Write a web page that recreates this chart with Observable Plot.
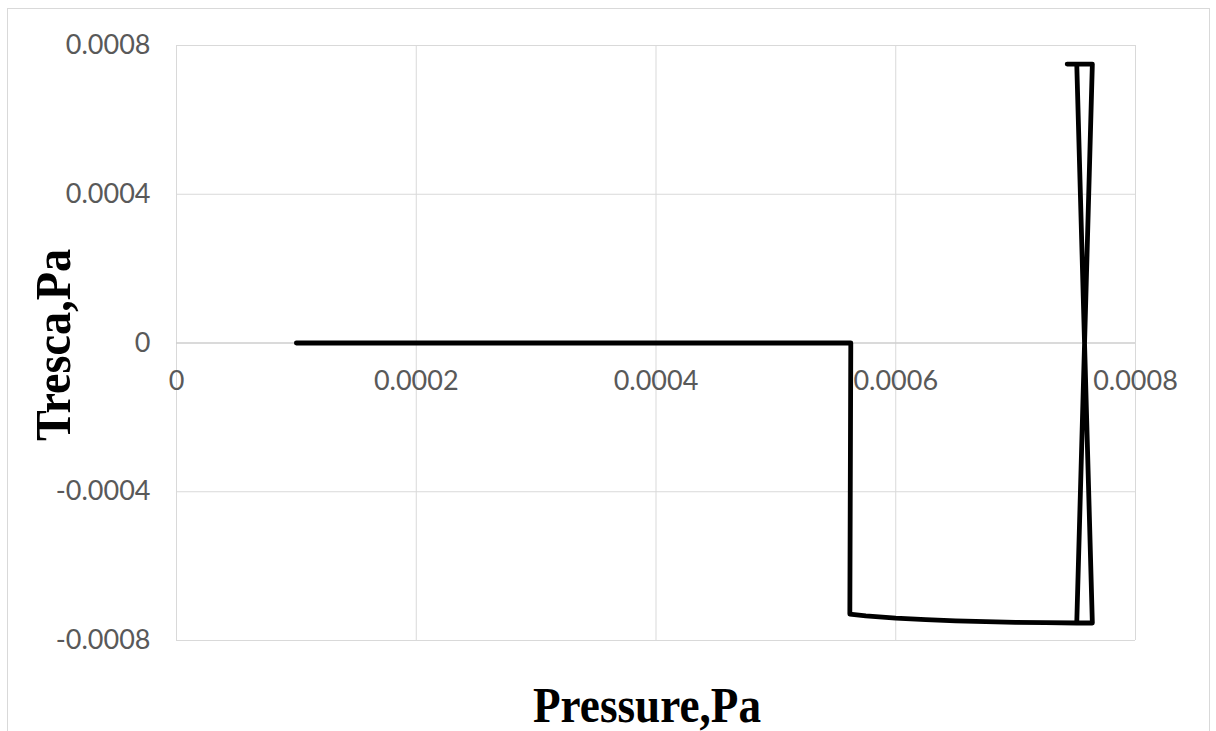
<!DOCTYPE html>
<html>
<head>
<meta charset="utf-8">
<script src="https://cdn.jsdelivr.net/npm/d3@7"></script>
<script src="https://cdn.jsdelivr.net/npm/@observablehq/plot@0.6"></script>
<style>
  body { margin: 0; background: #fff; overflow: hidden; }
  #chart { position: relative; width: 1216px; height: 731px; }
  #border { position: absolute; left: 7px; top: 8px; width: 1203px; height: 740px;
            border: 1px solid #d9d9d9; box-sizing: border-box; pointer-events: none; }
</style>
</head>
<body>
<div id="chart"><div id="border"></div></div>
<script>
// Tresca stress against pressure along the loading path
const pressure = [0.0001, 0.0005625, 0.0005617, 0.000575, 0.0006, 0.000625, 0.00065, 0.000675, 0.0007, 0.000725, 0.000751, 0.000764, 0.000751, 0.000743, 0.000764, 0.000751];
const tresca   = [0, 0, -0.000729, -0.000734, -0.000740, -0.000744, -0.000747, -0.000749, -0.000751, -0.000752, -0.000753, -0.000753, 0.00075, 0.00075, 0.00075, -0.000753];

const xTicks = [0, 0.0002, 0.0004, 0.0006, 0.0008];
const xTickLabels = ["0", "0.0002", "0.0004", "0.0006", "0.0008"];
const yTicks = [0.0008, 0.0004, 0, -0.0004, -0.0008];
const yTickLabels = ["0.0008", "0.0004", "0", "-0.0004", "-0.0008"];

const xTitle = "Pressure,Pa";
const yTitle = "Tresca,Pa";

const points = pressure.map((p, i) => ({ p, t: tresca[i] }));
const tickFont = 27;
const tickColor = "#595959";

const chart = Plot.plot({
  width: 1216,
  height: 731,
  marginLeft: 176,
  marginRight: 81,
  marginTop: 45,
  marginBottom: 91,
  x: { domain: [0, 0.0008], axis: null },
  y: { domain: [-0.0008, 0.0008], axis: null },
  style: { fontFamily: "Lato, 'Open Sans', sans-serif", background: "transparent", overflow: "visible" },
  marks: [
    Plot.gridX(xTicks, { stroke: "#d9d9d9", strokeOpacity: 1, strokeWidth: 1 }),
    Plot.gridY(yTicks, { stroke: "#d9d9d9", strokeOpacity: 1, strokeWidth: 1 }),
    Plot.ruleY([0], { stroke: "#c8c8c8", strokeWidth: 1 }),
    Plot.axisY(yTicks, {
      anchor: "left", tickSize: 0, tickPadding: 26,
      tickFormat: (d) => yTickLabels[yTicks.indexOf(d)],
      fontSize: tickFont, fill: tickColor, label: null
    }),
    Plot.text(xTicks, {
      x: (d) => d, y: () => 0, dy: 38,
      text: (d) => xTickLabels[xTicks.indexOf(d)],
      fontSize: tickFont, fill: tickColor
    }),
    Plot.line(points, { x: "p", y: "t", stroke: "#000", strokeWidth: 4.8, strokeLinejoin: "round" }),
    Plot.text([xTitle], {
      text: (d) => d, frameAnchor: "bottom", lineAnchor: "middle", textAnchor: "middle",
      dx: -9, dy: 65,
      fontFamily: "'Liberation Serif', serif", fontWeight: "bold", fontSize: 50, fill: "#000"
    }),
    Plot.text([yTitle], {
      text: (d) => d, frameAnchor: "left", lineAnchor: "middle", textAnchor: "middle",
      dx: -123, dy: 2, rotate: -90,
      fontFamily: "'Liberation Serif', serif", fontWeight: "bold", fontSize: 50, fill: "#000"
    })
  ]
});

// Narrow the bold axis titles to the condensed width used in the layout
d3.select(chart).selectAll("text").each(function () {
  const t = this.textContent;
  if (t === xTitle) d3.select(this).attr("textLength", 228).attr("lengthAdjust", "spacingAndGlyphs");
  if (t === yTitle) d3.select(this).attr("textLength", 192).attr("lengthAdjust", "spacingAndGlyphs");
});

document.getElementById("chart").prepend(chart);
</script>
</body>
</html>
